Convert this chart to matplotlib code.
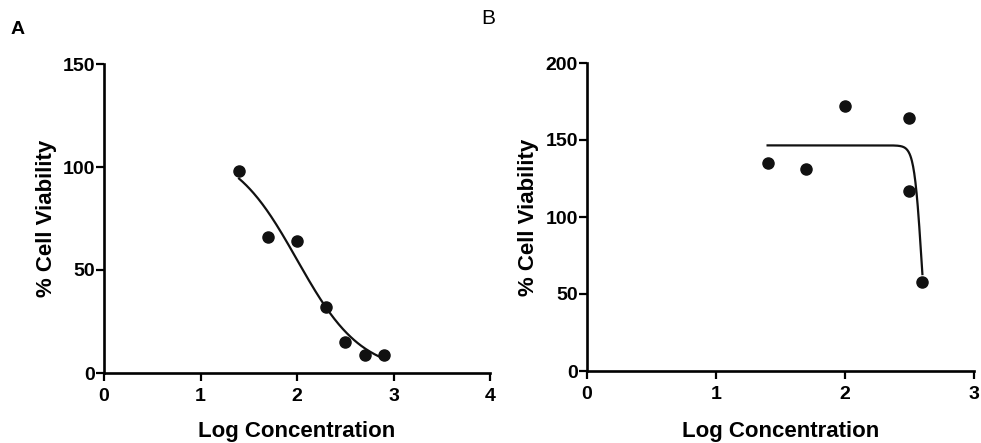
import numpy as np
import matplotlib
matplotlib.use("Agg")
import matplotlib.pyplot as plt
from matplotlib import font_manager as fm

# Pick a narrow Arial-like face if available (reference uses condensed bold sans)
narrow = None
for fam in ['Liberation Sans Narrow', 'Arial Narrow']:
    try:
        fm.findfont(fm.FontProperties(family=fam, weight='bold'), fallback_to_default=False)
        narrow = fam
        break
    except Exception:
        pass

if narrow:
    plt.rcParams['font.family'] = [narrow, 'Liberation Sans', 'DejaVu Sans']
    TICK_FS, LABEL_FS = 15.5, 18.5
else:
    plt.rcParams['font.family'] = ['Liberation Sans', 'DejaVu Sans']
    TICK_FS, LABEL_FS = 14, 16

# Panel A data
a_logc = [1.4, 1.7, 2.0, 2.3, 2.5, 2.7, 2.9]
a_viab = [98, 66, 64, 32, 15, 8.5, 8.5]
# Panel A fitted curve parameters (4PL)
a_top, a_bottom, a_logec50, a_hill = 110.0, 0.0, 2.0, 1.3

# Panel B data
b_logc = [1.4, 1.7, 2.0, 2.5, 2.5, 2.6]
b_viab = [135, 131, 172, 164, 117, 58]
b_top, b_bottom, b_logec50, b_hill = 146.5, 0.0, 2.592, 15.4

a_xticks = [0, 1, 2, 3, 4]
a_yticks = [0, 50, 100, 150]
b_xticks = [0, 1, 2, 3]
b_yticks = [0, 50, 100, 150, 200]


def fourpl(x, top, bottom, ec50, hill):
    return bottom + (top - bottom) / (1 + 10 ** ((x - ec50) * hill))


fig = plt.figure(figsize=(9.81, 4.43), dpi=100)
W, H = 981, 443

axA = fig.add_axes([104 / W, 1 - 373 / H, (490 - 104) / W, (373 - 64) / H])
axB = fig.add_axes([587 / W, 1 - 371 / H, (974 - 587) / W, (371 - 63) / H])


def style(ax, xt, yt, ylab_x, xlab_y):
    for s in ['top', 'right']:
        ax.spines[s].set_visible(False)
    for s in ['left', 'bottom']:
        ax.spines[s].set_linewidth(1.9)
    ax.set_xticks(xt)
    ax.set_yticks(yt)
    ax.set_xlim(xt[0], xt[-1])
    ax.set_ylim(yt[0], yt[-1])
    ax.tick_params(direction='out', length=5.5, width=1.6, labelsize=TICK_FS)
    ax.tick_params(axis='x', pad=5)
    ax.tick_params(axis='y', pad=1)
    for lab in ax.get_xticklabels() + ax.get_yticklabels():
        lab.set_fontweight('bold')
    ax.set_xlabel('Log Concentration', fontsize=LABEL_FS, fontweight='bold', va='center')
    ax.set_ylabel('% Cell Viability', fontsize=LABEL_FS, fontweight='bold', va='center')
    ax.yaxis.set_label_coords(ylab_x, 0.5)
    ax.xaxis.set_label_coords(0.5, xlab_y)


style(axA, a_xticks, a_yticks, -0.150, -0.190)
xa = np.linspace(min(a_logc), max(a_logc), 200)
axA.plot(xa, fourpl(xa, a_top, a_bottom, a_logec50, a_hill), color='#111111', lw=1.6, clip_on=False)
axA.plot(a_logc, a_viab, 'o', color='#111111', ms=8, clip_on=False)

style(axB, b_xticks, b_yticks, -0.150, -0.197)
xb = np.linspace(min(b_logc), max(b_logc), 400)
axB.plot(xb, fourpl(xb, b_top, b_bottom, b_logec50, b_hill), color='#111111', lw=1.6, clip_on=False)
axB.plot(b_logc, b_viab, 'o', color='#111111', ms=8, clip_on=False)

fig.text(18 / W, 1 - 30 / H, 'A', fontsize=14, fontweight='bold', ha='center', va='center',
         family=['Liberation Sans', 'DejaVu Sans'])
fig.text(488 / W, 1 - 18 / H, 'B', fontsize=15, ha='center', va='center',
         family=['Liberation Sans', 'DejaVu Sans'])

fig.savefig('out.png', dpi=100)
